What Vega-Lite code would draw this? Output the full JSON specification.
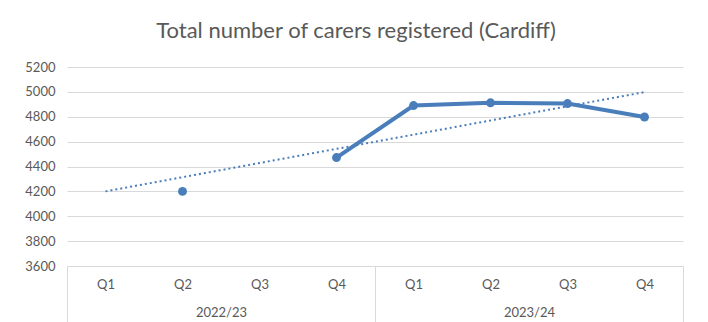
{
  "$schema": "https://vega.github.io/schema/vega-lite/v6.json",
  "width": 616,
  "height": 199,
  "autosize": "none",
  "padding": {"left": 67, "top": 67, "right": 25, "bottom": 56},
  "background": "white",
  "title": {
    "text": "Total number of carers registered (Cardiff)",
    "fontSize": 22,
    "font": "Lato",
    "fontWeight": "normal",
    "color": "#595959",
    "offset": 18,
    "dx": -19
  },
  "config": {
    "view": {"stroke": null},
    "font": "Lato",
    "axisY": {
      "values": [3600, 3800, 4000, 4200, 4400, 4600, 4800, 5000, 5200],
      "format": "d", "labelOverlap": false, "title": null,
      "domain": false, "ticks": false, "grid": true, "gridColor": "#d9d9d9",
      "gridWidth": 1, "labelPadding": 12, "labelFontSize": 13,
      "labelColor": "#595959", "labelFont": "Lato"
    }
  },
  "datasets": {
    "carers": [
      {"year": "2022/23", "quarter": "Q1", "idx": 0.5, "carers": null},
      {"year": "2022/23", "quarter": "Q2", "idx": 1.5, "carers": 4200},
      {"year": "2022/23", "quarter": "Q3", "idx": 2.5, "carers": null},
      {"year": "2022/23", "quarter": "Q4", "idx": 3.5, "carers": 4472},
      {"year": "2023/24", "quarter": "Q1", "idx": 4.5, "carers": 4890},
      {"year": "2023/24", "quarter": "Q2", "idx": 5.5, "carers": 4912},
      {"year": "2023/24", "quarter": "Q3", "idx": 6.5, "carers": 4906},
      {"year": "2023/24", "quarter": "Q4", "idx": 7.5, "carers": 4798}
    ],
    "trend": [
      {"idx": 0.5, "carers": 4200},
      {"idx": 7.5, "carers": 4998}
    ]
  },
  "layer": [
    {
      "data": {"name": "trend"},
      "mark": {"type": "line", "color": "#4a7ebb", "strokeWidth": 2, "strokeDash": [2, 3]},
      "encoding": {
        "x": {
          "field": "idx", "type": "quantitative",
          "scale": {"domain": [0, 8], "nice": false, "zero": false},
          "axis": {
            "orient": "bottom", "title": null, "values": [0, 4, 8], "labels": false,
            "domain": false, "grid": false, "ticks": true, "tickSize": 60,
            "tickColor": "#d9d9d9", "tickWidth": 1
          }
        },
        "y": {
          "field": "carers", "type": "quantitative",
          "scale": {"domain": [3600, 5200], "nice": false, "zero": false},
          "axis": {"values": [3600, 3800, 4000, 4200, 4400, 4600, 4800, 5000, 5200], "title": null}
        }
      }
    },
    {
      "data": {"name": "carers"},
      "mark": {"type": "line", "color": "#4a7ebb", "strokeWidth": 4, "invalid": "break-paths-filter-domains"},
      "encoding": {
        "x": {
          "field": "idx", "type": "quantitative",
          "axis": {
            "orient": "bottom", "title": null, "values": [0.5, 1.5, 2.5, 3.5, 4.5, 5.5, 6.5, 7.5],
            "labelExpr": "'Q' + (floor(datum.value) % 4 + 1)",
            "domain": false, "grid": false, "ticks": false, "labelPadding": 12,
            "labelFontSize": 13, "labelColor": "#595959", "labelFont": "Lato"
          }
        },
        "y": {"field": "carers", "type": "quantitative",
          "axis": {"values": [3600, 3800, 4000, 4200, 4400, 4600, 4800, 5000, 5200], "title": null}}
      }
    },
    {
      "data": {"name": "carers"},
      "mark": {"type": "point", "filled": true, "color": "#4a7ebb", "size": 80, "opacity": 1},
      "encoding": {
        "x": {
          "field": "idx", "type": "quantitative",
          "axis": {
            "orient": "bottom", "title": null, "values": [2, 6],
            "labelExpr": "datum.value < 4 ? '2022/23' : '2023/24'",
            "domain": false, "grid": false, "ticks": false, "labelPadding": 40,
            "labelFontSize": 13, "labelColor": "#595959", "labelFont": "Lato"
          }
        },
        "y": {"field": "carers", "type": "quantitative",
          "axis": {"values": [3600, 3800, 4000, 4200, 4400, 4600, 4800, 5000, 5200], "title": null}}
      }
    }
  ],
  "resolve": {"axis": {"x": "independent"}}
}
